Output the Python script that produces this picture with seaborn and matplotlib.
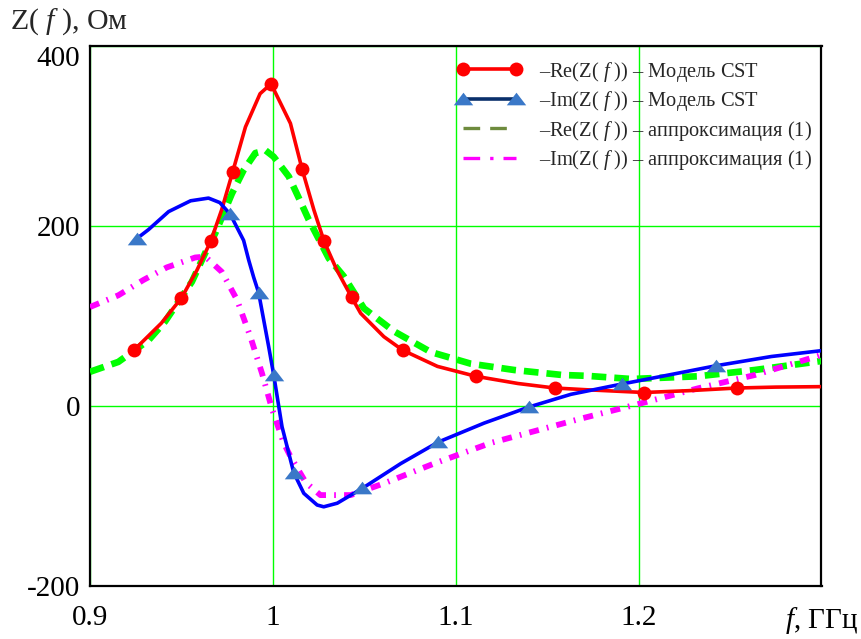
import numpy as np
import pandas as pd
import seaborn as sns
import matplotlib
matplotlib.use("Agg")
import matplotlib.pyplot as plt
from matplotlib.lines import Line2D
from matplotlib.legend_handler import HandlerLine2D

# ---------------- data ----------------
re_cst_f = [0.924, 0.939, 0.950, 0.9585, 0.966, 0.972, 0.978, 0.985, 0.993, 0.999,
            1.0096, 1.016, 1.0224, 1.028, 1.035, 1.043, 1.048, 1.0607, 1.071, 1.090,
            1.111, 1.134, 1.154, 1.172, 1.203, 1.227, 1.254, 1.275, 1.300]
re_cst_z = [62, 92, 120, 151, 183, 218, 260, 310, 347, 358,
            314, 263, 218, 183, 151, 121, 103, 77, 62, 44,
            33, 25, 20, 18, 15, 17, 20, 21, 21.5]
re_cst_marks = [0, 2, 4, 6, 9, 11, 13, 15, 18, 20, 22, 24, 26]

im_cst_f = [0.9256, 0.932, 0.943, 0.955, 0.9648, 0.971, 0.9767, 0.984, 0.9868, 0.9895,
            0.9922, 0.9977, 1.0005, 1.005, 1.0114, 1.0169, 1.0242, 1.0278, 1.0352, 1.0489,
            1.0699, 1.0905, 1.1155, 1.1402, 1.163, 1.1908, 1.2178, 1.2425, 1.2726, 1.300]
im_cst_z = [186, 196, 216, 228, 231, 226, 213, 184, 162, 143,
            126, 66, 34, -23, -74, -97, -110, -112, -108, -91.5,
            -64, -40, -19, -1, 13, 24.4, 35, 44.8, 55, 61.5]
im_cst_marks = [0, 6, 10, 12, 14, 19, 21, 23, 25, 27]

re_apx_f = [0.900, 0.9155, 0.932, 0.9411, 0.9557, 0.963, 0.9685, 0.9776, 0.984, 0.9904,
            0.996, 1.0004, 1.0087, 1.0142, 1.0196, 1.0306, 1.0388, 1.0498, 1.0662, 1.0863,
            1.1082, 1.132, 1.158, 1.172, 1.196, 1.2324, 1.2635, 1.2927, 1.300]
re_apx_z = [38, 49, 73, 94, 138, 170, 192, 236, 262, 281,
            284, 277, 255, 231, 207, 164, 144, 108.5, 83, 60,
            47, 40, 34.5, 33.5, 30, 33, 40, 48, 50]

im_apx_f = [0.900, 0.9155, 0.9292, 0.942, 0.9575, 0.963, 0.9721, 0.9804, 0.9877, 0.9941,
            0.9995, 1.0059, 1.0096, 1.018, 1.026, 1.0425, 1.0607, 1.0881, 1.1192, 1.1539,
            1.1685, 1.2014, 1.2324, 1.2635, 1.2982, 1.300]
im_apx_z = [110, 123, 140, 154, 165, 166, 149, 118, 77, 36,
            -3, -41, -56, -85, -99, -99, -86, -64, -41, -22,
            -14, 3, 19.6, 34.4, 55.6, 57]

x_ticks = [0.9, 1.0, 1.1, 1.2, 1.3]
x_tick_labels = ["0.9", "1", "1.1", "1.2", "$f$, ГГц"]
y_ticks = [-200, 0, 200, 400]
y_tick_labels = ["-200", "0", "200", "400"]

legend_labels = ["–Re(Z( $f$ )) – Модель CST",
                 "–Im(Z( $f$ )) – Модель CST",
                 "–Re(Z( $f$ )) – аппроксимация (1)",
                 "–Im(Z( $f$ )) – аппроксимация (1)"]
y_title = "Z( $f$ ), Ом"

# ---------------- style ----------------
sns.set_style("white")
plt.rcParams["font.family"] = ["Liberation Serif", "DejaVu Serif"]
plt.rcParams["mathtext.fontset"] = "custom"
plt.rcParams["mathtext.rm"] = "Liberation Serif"
plt.rcParams["mathtext.it"] = "Liberation Serif:italic"

RED = "#FF0000"
BLUE = "#0000FF"
TRI = "#3A78C8"
GREEN = "#00FF00"
MAGENTA = "#FF00FF"

fig = plt.figure(figsize=(8.62, 6.39), dpi=100)
ax = fig.add_axes([90 / 862, 1 - 586 / 639, (821.5 - 90) / 862, 540 / 639])

tri_marker = [(-1, -0.6), (1, -0.6), (0, 0.7), (-1, -0.6)]

sns.lineplot(x=re_apx_f, y=re_apx_z, ax=ax, color=GREEN, lw=4.8,
             linestyle=(0, (2.2, 1.2)), legend=False, zorder=3)
sns.lineplot(x=im_apx_f, y=im_apx_z, ax=ax, color=MAGENTA, lw=4.2,
             linestyle=(0, (1.7, 1.4, 0.3, 1.4)), legend=False, zorder=3)
sns.lineplot(x=re_cst_f, y=re_cst_z, ax=ax, color=RED, lw=2.6,
             marker="o", markersize=10, markevery=re_cst_marks,
             markerfacecolor=RED, markeredgecolor=RED, markeredgewidth=0,
             legend=False, zorder=4)
sns.lineplot(x=im_cst_f, y=im_cst_z, ax=ax, color=BLUE, lw=2.6,
             marker=tri_marker, markersize=14, markevery=im_cst_marks,
             markerfacecolor=TRI, markeredgecolor=TRI, markeredgewidth=0,
             legend=False, zorder=4)

ax.set_xlim(0.9, 1.3)
ax.set_ylim(-200, 400)
ax.set_xticks(x_ticks)
ax.set_xticklabels(x_tick_labels)
ax.set_yticks(y_ticks)
ax.set_yticklabels(y_tick_labels)
ax.tick_params(axis="both", length=0, labelsize=21, colors="black")
ax.tick_params(axis="x", pad=14)
ax.tick_params(axis="y", pad=7)
for lab in ax.get_yticklabels():
    if lab.get_text() == "400":
        lab.set_va("top")
ax.set_xlabel("")
ax.set_ylabel("")
ax.grid(True, color=GREEN, lw=1.0)
ax.set_axisbelow(True)
for s in ax.spines.values():
    s.set_visible(True)
    s.set_color("black")
    s.set_linewidth(1.6)

fig.text(10 / 862, 1 - 29 / 639, y_title, fontsize=21.5, ha="left", va="baseline")

handles = [
    Line2D([], [], color=RED, lw=2.6, marker="o", markersize=10,
           markeredgewidth=0),
    Line2D([], [], color="#0A2F6B", lw=2.6, marker=tri_marker, markersize=14,
           markerfacecolor=TRI, markeredgecolor=TRI, markeredgewidth=0),
    Line2D([], [], color="#6E8B3D", lw=2.4, linestyle=(0, (5, 3))),
    Line2D([], [], color=MAGENTA, lw=2.4, linestyle=(0, (5, 3, 1, 3))),
]
leg = ax.legend(handles, legend_labels, loc="upper left",
                bbox_to_anchor=(0.492, 0.975), frameon=False, fontsize=14.7,
                handlelength=3.9, handletextpad=0.45, labelspacing=0.27,
                borderpad=0, borderaxespad=0, numpoints=2,
                handler_map={Line2D: HandlerLine2D(marker_pad=0.65, numpoints=2)})

fig.savefig("out.png", dpi=100)
